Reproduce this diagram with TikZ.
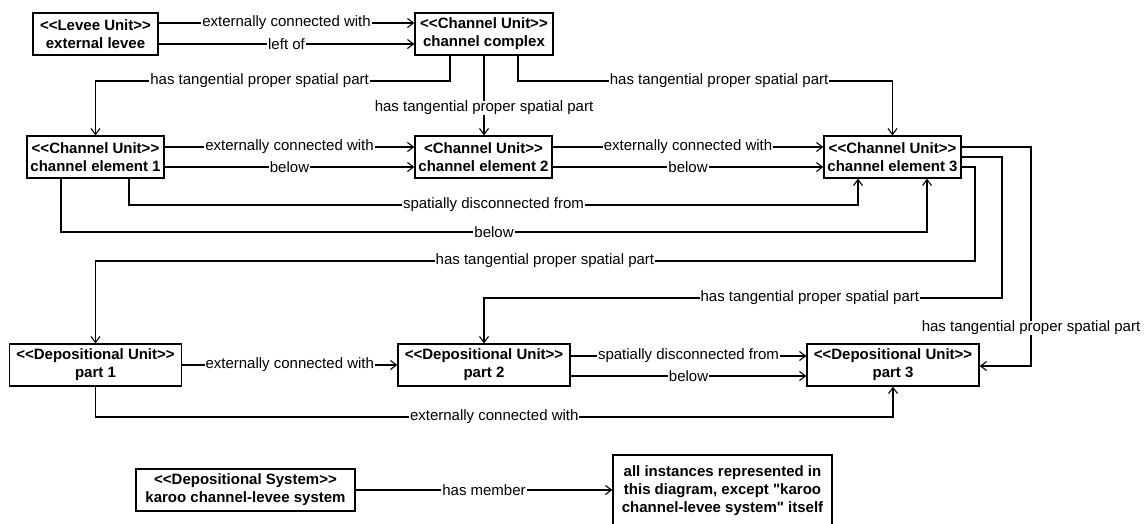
\documentclass[tikz,border=0pt]{standalone}
\usepackage{fontspec}
\setmainfont{Liberation Sans}[Ligatures=TeXOff]
\usetikzlibrary{arrows.meta}
\begin{document}
\begin{tikzpicture}[x=1pt,y=-1pt,
  unit/.style={draw, line width=1.3pt, fill=white, inner sep=0pt, align=center,
               minimum height=42pt, font=\fontsize{15}{18}\selectfont\bfseries},
  rel/.style={draw, line width=1.1pt, -{Straight Barb[length=6pt,width=9pt]}},
  lbl/.style={fill=white, inner xsep=1pt, inner ysep=0pt,
              font=\fontsize{15}{18}\selectfont}]
\useasboundingbox (0,0) rectangle (1147,523);
\clip (0,0) rectangle (1147,523);

% units
\node[unit, minimum width=125pt] (levee) at (95.5,34) {<<Levee Unit>>\\external levee};
\node[unit, minimum width=138pt] (cc) at (484,34) {<<Channel Unit>>\\channel complex};
\node[unit, minimum width=137pt] (ce1) at (95.5,157) {<<Channel Unit>>\\channel element 1};
\node[unit, minimum width=137pt] (ce2) at (483.5,157) {<Channel Unit>>\\channel element 2};
\node[unit, minimum width=137pt] (ce3) at (892.5,157) {<<Channel Unit>>\\channel element 3};
\node[unit, minimum width=172pt] (p1) at (95.5,365) {<<Depositional Unit>>\\part 1};
\node[unit, minimum width=172pt] (p2) at (484,365) {<<Depositional Unit>>\\part 2};
\node[unit, minimum width=172pt] (p3) at (893,365) {<<Depositional Unit>>\\part 3};
\node[unit, minimum width=219pt] (ds) at (245.5,490) {<<Depositional System>>\\karoo channel-levee system};
\node[unit, minimum width=219pt, minimum height=71pt] (all) at (722.5,490.5)
  {all instances represented in\\this diagram, except "karoo\\channel-levee system" itself};

% levee to channel complex
\draw[rel] (levee.east |- 0,23) -- node[lbl] {externally connected with} (cc.west |- 0,23);
\draw[rel] (levee.east |- 0,44) -- node[lbl] {left of} (cc.west |- 0,44);

% channel complex to its elements
\draw[rel] (cc.south -| 450,0) -- (450,81) -- node[lbl, pos=0.537] {has tangential proper spatial part} (95.5,81) -- (ce1.north);
\draw[rel] (cc.south) -- node[lbl, pos=0.654] {has tangential proper spatial part} (ce2.north -| cc.south);
\draw[rel] (cc.south -| 518,0) -- (518,81) -- node[lbl, pos=0.537] {has tangential proper spatial part} (892.5,81) -- (ce3.north);

% relations among channel elements
\draw[rel] (ce1.east |- 0,147) -- node[lbl] {externally connected with} (ce2.west |- 0,147);
\draw[rel] (ce1.east |- 0,167) -- node[lbl] {below} (ce2.west |- 0,167);
\draw[rel] (ce2.east |- 0,147) -- node[lbl] {externally connected with} (ce3.west |- 0,147);
\draw[rel] (ce2.east |- 0,167) -- node[lbl] {below} (ce3.west |- 0,167);
\draw[rel] (ce1.south -| 129,0) -- (129,205) -- node[lbl] {spatially disconnected from} (858,205) -- (ce3.south -| 858,0);
\draw[rel] (ce1.south -| 61,0) -- (61,232) -- node[lbl] {below} (927,232) -- (ce3.south -| 927,0);

% channel element 3 to depositional parts
\draw[rel] (ce3.east |- 0,167) -- (975,167) -- (975,261) -- node[lbl, pos=0.489] {has tangential proper spatial part} (95.5,261) -- (p1.north);
\draw[rel] (ce3.east |- 0,157) -- (1002,157) -- (1002,298) -- node[lbl, pos=0.371] {has tangential proper spatial part} (484,298) -- (p2.north);
\draw[rel] (ce3.east |- 0,147) -- (1031,147) -- node[lbl, pos=0.826] {has tangential proper spatial part} (1031,366) -- (p3.east |- 0,366);

% relations among depositional parts
\draw[rel] (p1.east |- 0,365) -- node[lbl] {externally connected with} (p2.west |- 0,365);
\draw[rel] (p2.east |- 0,356) -- node[lbl] {spatially disconnected from} (p3.west |- 0,356);
\draw[rel] (p2.east |- 0,376) -- node[lbl] {below} (p3.west |- 0,376);
\draw[rel] (p1.south) -- (95.5,417) -- node[lbl] {externally connected with} (893,417) -- (p3.south);

% system membership
\draw[rel] (ds.east) -- node[lbl] {has member} (all.west |- ds.east);
\end{tikzpicture}
\end{document}
